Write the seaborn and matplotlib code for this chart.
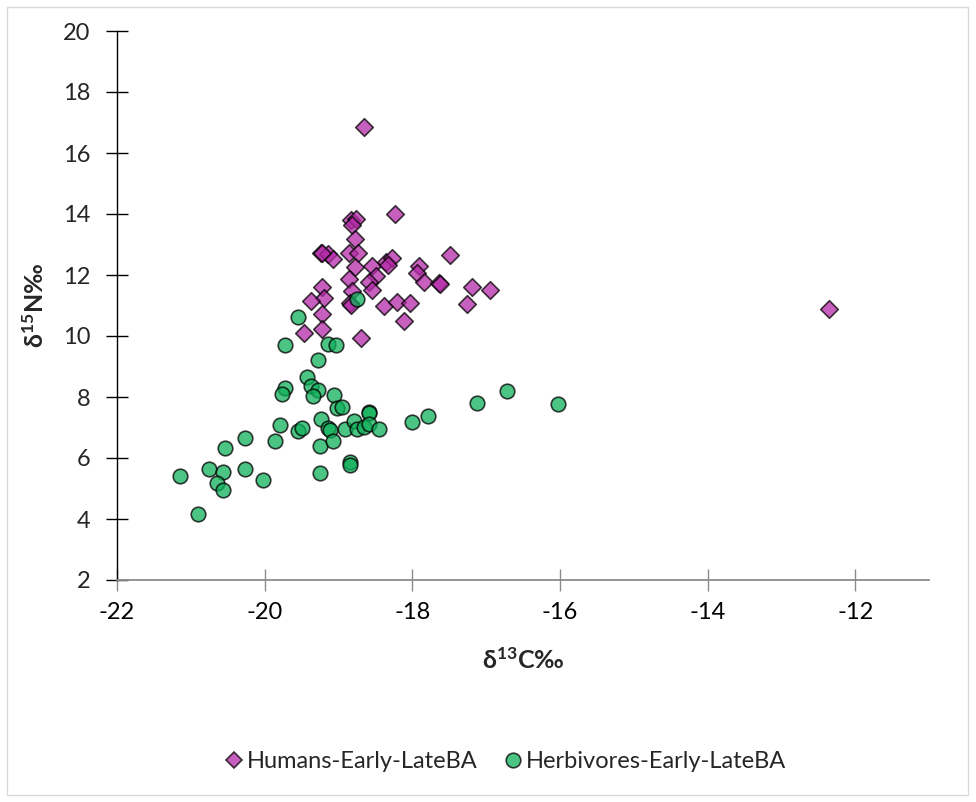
import matplotlib
matplotlib.use("Agg")
import matplotlib.pyplot as plt
import seaborn as sns
import pandas as pd
from matplotlib.patches import Rectangle
from matplotlib.lines import Line2D

# ---- data ----
humans_c13 = [-18.66, -18.23, -18.83, -18.76, -18.81, -18.77, -19.23, -19.14, -19.08, -19.22,
              -18.86, -18.74, -18.77, -18.55, -18.49, -18.58, -18.55, -18.86, -18.81, -18.85,
              -18.83, -18.36, -18.27, -18.33, -17.91, -17.93, -17.84, -17.64, -17.62, -17.49,
              -17.19, -16.95, -17.26, -18.38, -18.21, -18.03, -18.11, -19.22, -19.20, -19.37,
              -19.22, -19.47, -19.22, -18.69, -12.35]
humans_n15 = [16.86, 13.99, 13.80, 13.83, 13.64, 13.17, 12.73, 12.69, 12.52, 12.72,
              12.71, 12.71, 12.27, 12.31, 11.98, 11.78, 11.51, 11.86, 11.49, 11.07,
              11.02, 12.44, 12.55, 12.33, 12.31, 12.06, 11.78, 11.73, 11.71, 12.66,
              11.60, 11.51, 11.04, 10.99, 11.10, 11.07, 10.49, 11.62, 11.24, 11.16,
              10.72, 10.09, 10.22, 9.94, 10.87]

herb_c13 = [-19.55, -19.72, -19.14, -19.03, -18.75, -19.28, -19.43, -19.37, -19.28, -19.34,
            -19.72, -19.76, -19.06, -19.02, -18.95, -19.23, -19.79, -19.55, -19.49, -19.14,
            -19.12, -18.91, -18.79, -18.75, -18.65, -18.59, -18.58, -18.59, -18.45, -19.25,
            -19.08, -20.27, -20.54, -19.86, -18.85, -18.85, -19.25, -20.75, -20.56, -20.65,
            -20.56, -20.26, -20.02, -21.14, -20.90, -18.01, -17.79, -17.12, -16.71, -16.02]
herb_n15 = [10.61, 9.72, 9.73, 9.70, 11.20, 9.21, 8.65, 8.36, 8.23, 8.04,
            8.29, 8.09, 8.07, 7.63, 7.66, 7.28, 7.08, 6.90, 6.97, 6.99,
            6.92, 6.95, 7.22, 6.95, 7.01, 7.50, 7.47, 7.11, 6.95, 6.40,
            6.55, 6.67, 6.32, 6.56, 5.86, 5.77, 5.50, 5.63, 5.55, 5.19,
            4.95, 5.63, 5.28, 5.41, 4.16, 7.17, 7.39, 7.80, 8.21, 7.76]

series_names = ["Humans-Early-LateBA", "Herbivores-Early-LateBA"]
x_ticks = [-22, -20, -18, -16, -14, -12]
y_ticks = [2, 4, 6, 8, 10, 12, 14, 16, 18, 20]

humans = pd.DataFrame({"c13": humans_c13, "n15": humans_n15})
herbs = pd.DataFrame({"c13": herb_c13, "n15": herb_n15})

sns.set_style("white")
plt.rcParams["font.family"] = ["Lato", "DejaVu Sans"]
plt.rcParams["mathtext.fontset"] = "custom"
plt.rcParams["mathtext.rm"] = "Lato"
plt.rcParams["mathtext.bf"] = "Lato:bold"
plt.rcParams["mathtext.default"] = "bf"

W, H = 976, 802
fig = plt.figure(figsize=(W / 100, H / 100), dpi=100)
ax = fig.add_axes([117 / W, 1 - 580 / H, (929 - 117) / W, (580 - 31) / H])

purple = "#B52AA8"
green = "#10B05A"

sns.scatterplot(data=humans, x="c13", y="n15", ax=ax, marker="D", s=80,
                color=purple, alpha=0.75, edgecolor="black", linewidth=1.2, zorder=3)
sns.scatterplot(data=herbs, x="c13", y="n15", ax=ax, marker="o", s=110,
                color=green, alpha=0.75, edgecolor="black", linewidth=1.2, zorder=3)

ax.set_xlim(-22, -11)
ax.set_ylim(2, 20)
ax.set_xticks(x_ticks)
ax.set_yticks(y_ticks)
ax.set_xticklabels([str(v) for v in x_ticks])
ax.set_yticklabels([str(v) for v in y_ticks])

for s in ["top", "right"]:
    ax.spines[s].set_visible(False)
ax.spines["left"].set_color("black")
ax.spines["left"].set_linewidth(1.0)
ax.spines["bottom"].set_color("#8C8C8C")
ax.spines["bottom"].set_linewidth(1.3)
ax.tick_params(axis="y", left=True, direction="inout", length=16, width=1.0, color="black",
               labelsize=17, pad=11)
ax.tick_params(axis="x", bottom=True, direction="inout", length=16, width=1.0, color="#8C8C8C",
               labelsize=17, pad=8, labelcolor="black")
ax.grid(False)

ax.set_xlabel(r"δ$^{13}$C‰", fontsize=18, fontweight="bold", labelpad=17)
ax.set_ylabel(r"δ$^{15}$N‰", fontsize=18, fontweight="bold", labelpad=11)

handles = [
    Line2D([], [], marker="D", linestyle="none", markersize=8.5, markerfacecolor=purple,
           markeredgecolor="black", markeredgewidth=1.2, alpha=0.75),
    Line2D([], [], marker="o", linestyle="none", markersize=10.5, markerfacecolor=green,
           markeredgecolor="black", markeredgewidth=1.2, alpha=0.75),
]
fig.legend(handles, series_names, loc="center", bbox_to_anchor=(504 / W, 1 - 762 / H),
           ncol=2, frameon=False, fontsize=17, handletextpad=0.05, columnspacing=1.0,
           handlelength=1.0)

fig.patches.append(Rectangle((7 / W, 7 / H), (968 - 7) / W, (795 - 7) / H,
                             transform=fig.transFigure, fill=False,
                             edgecolor="#D9D9D9", linewidth=1.0))

fig.savefig("out.png", dpi=100, facecolor="white")
